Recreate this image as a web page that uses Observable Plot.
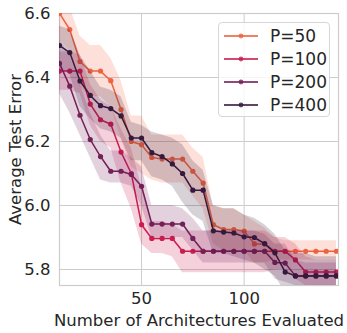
<!DOCTYPE html>
<html>
<head>
<meta charset="utf-8">
<script src="https://cdn.jsdelivr.net/npm/d3@7"></script>
<script src="https://cdn.jsdelivr.net/npm/@observablehq/plot@0.6"></script>
<style>
  html, body { margin: 0; padding: 0; background: #fff; }
  #wrap { position: relative; width: 347px; height: 333px; font-family: "DejaVu Sans", sans-serif; color: #262626; }
  #legend { position: absolute; left: 218px; top: 22px; width: 112px; height: 95px; box-sizing: border-box;
            border: 1px solid #d6d6d6; border-radius: 4px; background: rgba(255,255,255,0.8); }
  .row { position: absolute; left: 5px; height: 22px; display: flex; align-items: center; font-size: 17px; }
  .row svg { margin-right: 12px; }
</style>
</head>
<body>
<div id="wrap"><div id="chart"></div><div id="legend"></div></div>
<script>
const xs = [10,15,20,25,30,35,40,45,50,55,60,65,70,75,80,85,90,95,100,105,110,115,120,125,130,135,140,145];
const seriesNames = ["P=50","P=100","P=200","P=400"];
const seriesColors = ["#ee6240","#cb1b4f","#731f58","#35193e"];

const p50   = [6.60,6.55,6.45,6.42,6.42,6.39,6.30,6.20,6.19,6.15,6.145,6.145,6.145,6.107,6.07,5.94,5.925,5.925,5.92,5.88,5.88,5.857,5.857,5.857,5.857,5.857,5.857,5.857];
const p50Hi = [6.68,6.62,6.53,6.50,6.50,6.46,6.39,6.28,6.28,6.22,6.22,6.22,6.22,6.18,6.15,6.00,5.99,5.99,5.97,5.95,5.93,5.90,5.89,5.89,5.89,5.89,5.89,5.89];
const p50Lo = [6.52,6.48,6.37,6.34,6.34,6.31,6.21,6.12,6.10,6.08,6.07,6.07,6.07,6.03,5.99,5.88,5.86,5.86,5.86,5.82,5.82,5.83,5.83,5.83,5.83,5.83,5.83,5.83];

const p100   = [6.42,6.42,6.42,6.317,6.268,6.254,6.167,6.10,5.94,5.897,5.897,5.897,5.857,5.857,5.857,5.857,5.857,5.857,5.857,5.857,5.857,5.857,5.857,5.83,5.792,5.792,5.792,5.792];
const p100Hi = [6.48,6.48,6.47,6.38,6.33,6.31,6.24,6.18,6.06,5.95,5.95,5.94,5.92,5.92,5.92,5.92,5.92,5.92,5.92,5.92,5.92,5.90,5.90,5.88,5.84,5.83,5.83,5.83];
const p100Lo = [6.36,6.36,6.35,6.25,6.20,6.18,6.07,5.99,5.88,5.85,5.85,5.84,5.79,5.79,5.79,5.79,5.79,5.79,5.79,5.79,5.79,5.80,5.80,5.77,5.75,5.75,5.75,5.75];

const p200   = [6.444,6.373,6.282,6.206,6.153,6.107,6.107,6.097,6.06,5.942,5.942,5.942,5.942,5.897,5.857,5.857,5.857,5.857,5.857,5.857,5.857,5.822,5.82,5.78,5.78,5.78,5.78,5.78];
const p200Hi = [6.52,6.47,6.38,6.29,6.22,6.17,6.17,6.15,6.12,6.00,6.00,6.00,5.99,5.96,5.92,5.92,5.92,5.92,5.92,5.92,5.91,5.88,5.88,5.83,5.82,5.82,5.82,5.82];
const p200Lo = [6.35,6.29,6.22,6.15,6.08,6.07,6.07,6.06,6.00,5.90,5.90,5.90,5.90,5.86,5.82,5.82,5.82,5.82,5.82,5.82,5.82,5.77,5.76,5.75,5.75,5.75,5.75,5.75];

const p400   = [6.50,6.478,6.389,6.344,6.312,6.303,6.28,6.211,6.211,6.165,6.153,6.13,6.10,6.048,6.048,5.921,5.917,5.914,5.902,5.90,5.881,5.852,5.792,5.78,5.78,5.78,5.78,5.78];
const p400Hi = [6.56,6.55,6.47,6.42,6.37,6.36,6.34,6.26,6.25,6.23,6.22,6.21,6.19,6.14,6.11,6.00,5.99,5.99,5.97,5.96,5.94,5.91,5.86,5.85,5.85,5.84,5.84,5.84];
const p400Lo = [6.43,6.41,6.31,6.27,6.24,6.23,6.21,6.14,6.14,6.09,6.08,6.06,6.01,5.97,5.95,5.85,5.85,5.84,5.83,5.82,5.80,5.78,5.73,5.72,5.72,5.72,5.72,5.72];

const xTicks = [50, 100];
const yTicks = [5.8, 6.0, 6.2, 6.4, 6.6];

const seriesData = [[p50,p50Lo,p50Hi],[p100,p100Lo,p100Hi],[p200,p200Lo,p200Hi],[p400,p400Lo,p400Hi]];
const rows = [];
seriesNames.forEach((name, s) => {
  xs.forEach((x, i) => rows.push({series: name, x, y: seriesData[s][0][i], lo: seriesData[s][1][i], hi: seriesData[s][2][i]}));
});

const marks = [
  Plot.gridX(xTicks, {stroke: "#cccccc", strokeOpacity: 1, strokeWidth: 1}),
  Plot.gridY(yTicks, {stroke: "#cccccc", strokeOpacity: 1, strokeWidth: 1}),
  Plot.frame({stroke: "#cccccc", strokeWidth: 1.2})
];
seriesNames.forEach((name, s) => {
  const d = rows.filter(r => r.series === name);
  const c = seriesColors[s];
  marks.push(Plot.areaY(d, {x: "x", y1: "lo", y2: "hi", fill: c, fillOpacity: 0.2, clip: true}));
  marks.push(Plot.line(d, {x: "x", y: "y", stroke: c, strokeWidth: 1.5, clip: true}));
  marks.push(Plot.dot(d, {x: "x", y: "y", fill: c, r: 2.6, stroke: "none", clip: true}));
});
marks.push(Plot.axisX(xTicks, {tickSize: 0, tickPadding: 7, fontSize: 16.5, fill: "#262626",
  label: "Number of Architectures Evaluated", labelAnchor: "center", labelArrow: "none", labelOffset: 40}));
marks.push(Plot.axisY(yTicks, {tickSize: 0, tickPadding: 9, fontSize: 16.5, fill: "#262626", tickFormat: d3.format(".1f"),
  label: "Average Test Error", labelAnchor: "center", labelArrow: "none", labelOffset: 50}));

const chart = Plot.plot({
  width: 347, height: 333,
  marginLeft: 59, marginRight: 9, marginTop: 13, marginBottom: 48,
  x: {domain: [10, 146]},
  y: {domain: [5.75, 6.6]},
  style: {fontFamily: "DejaVu Sans, sans-serif", fontSize: "16.5px", color: "#262626", background: "#fff"},
  marks
});
document.getElementById("chart").appendChild(chart);

const legend = document.getElementById("legend");
seriesNames.forEach((name, s) => {
  const row = document.createElement("div");
  row.className = "row";
  row.style.top = (2 + s * 23) + "px";
  row.innerHTML = `<svg width="34" height="8"><line x1="0" y1="4" x2="34" y2="4" stroke="${seriesColors[s]}" stroke-width="2" opacity="0.8"/><circle cx="17" cy="4" r="2.4" fill="${seriesColors[s]}" opacity="0.8"/></svg><span>${name}</span>`;
  legend.appendChild(row);
});
</script>
</body>
</html>
